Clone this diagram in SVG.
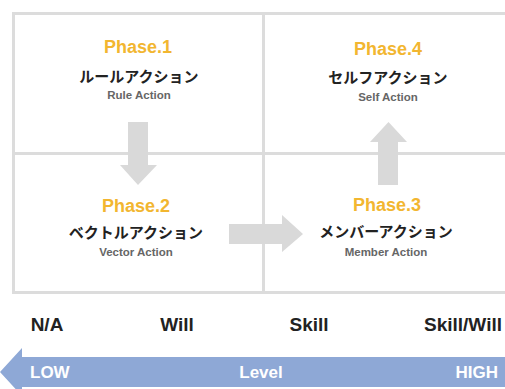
<svg xmlns="http://www.w3.org/2000/svg" width="505" height="389" viewBox="0 0 505 389">
<style>
.grid{fill:none;stroke:#dcdcdc;stroke-width:3}
.ph{font-family:"Liberation Sans",Arial,sans-serif;font-weight:bold;font-size:18px;fill:#F2B630;text-anchor:middle}
.jp{font-family:"Noto Sans CJK JP",sans-serif;font-weight:bold;font-size:15px;fill:#222;text-anchor:middle}
.en{font-family:"Liberation Sans",Arial,sans-serif;font-weight:bold;font-size:11.5px;fill:#666;text-anchor:middle}
.arr{fill:#d9d9d9}
.lab{font-family:"Liberation Sans",Arial,sans-serif;font-weight:bold;font-size:19px;fill:#222;text-anchor:middle}
.lv{font-family:"Liberation Sans",Arial,sans-serif;font-weight:bold;font-size:17px;fill:#fff}
</style>
<rect width="505" height="389" fill="#fff"/>
<g id="grid">
<rect class="grid" x="13.5" y="13.5" width="520" height="279"/>
<line class="grid" x1="263.5" y1="13" x2="263.5" y2="293"/>
<line class="grid" x1="13" y1="153.5" x2="520" y2="153.5"/>
</g>
<g id="connectors">
<path class="arr" d="M128 122H148V165H157L138 185L120 165H128Z"/>
<path class="arr" d="M229 224H282V215L303 234L282 252V244H229Z"/>
<path class="arr" d="M378 185V142H370L388.5 122L407 142H398V185Z"/>
</g>
<g id="phase1">
<text class="ph" x="138" y="53">Phase.1</text>
<text class="jp" x="139" y="82">ルールアクション</text>
<text class="en" x="139" y="99">Rule Action</text>
</g>
<g id="phase4">
<text class="ph" x="388" y="55">Phase.4</text>
<text class="jp" x="388" y="83">セルフアクション</text>
<text class="en" x="388" y="101">Self Action</text>
</g>
<g id="phase2">
<text class="ph" x="136" y="212">Phase.2</text>
<text class="jp" x="136" y="238">ベクトルアクション</text>
<text class="en" x="136" y="256">Vector Action</text>
</g>
<g id="phase3">
<text class="ph" x="387" y="211">Phase.3</text>
<text class="jp" x="386" y="237">メンバーアクション</text>
<text class="en" x="386" y="256">Member Action</text>
</g>
<g id="labels">
<text class="lab" x="47" y="331">N/A</text>
<text class="lab" x="177" y="331">Will</text>
<text class="lab" x="309" y="331">Skill</text>
<text class="lab" x="463" y="331">Skill/Will</text>
</g>
<g id="level">
<path d="M0 372L22 348V357H505V387H22V396Z" fill="#8EA8D6"/>
<text class="lv" x="30" y="378">LOW</text>
<text class="lv" x="261" y="378" text-anchor="middle">Level</text>
<text class="lv" x="498" y="378" text-anchor="end">HIGH</text>
</g>
</svg>
